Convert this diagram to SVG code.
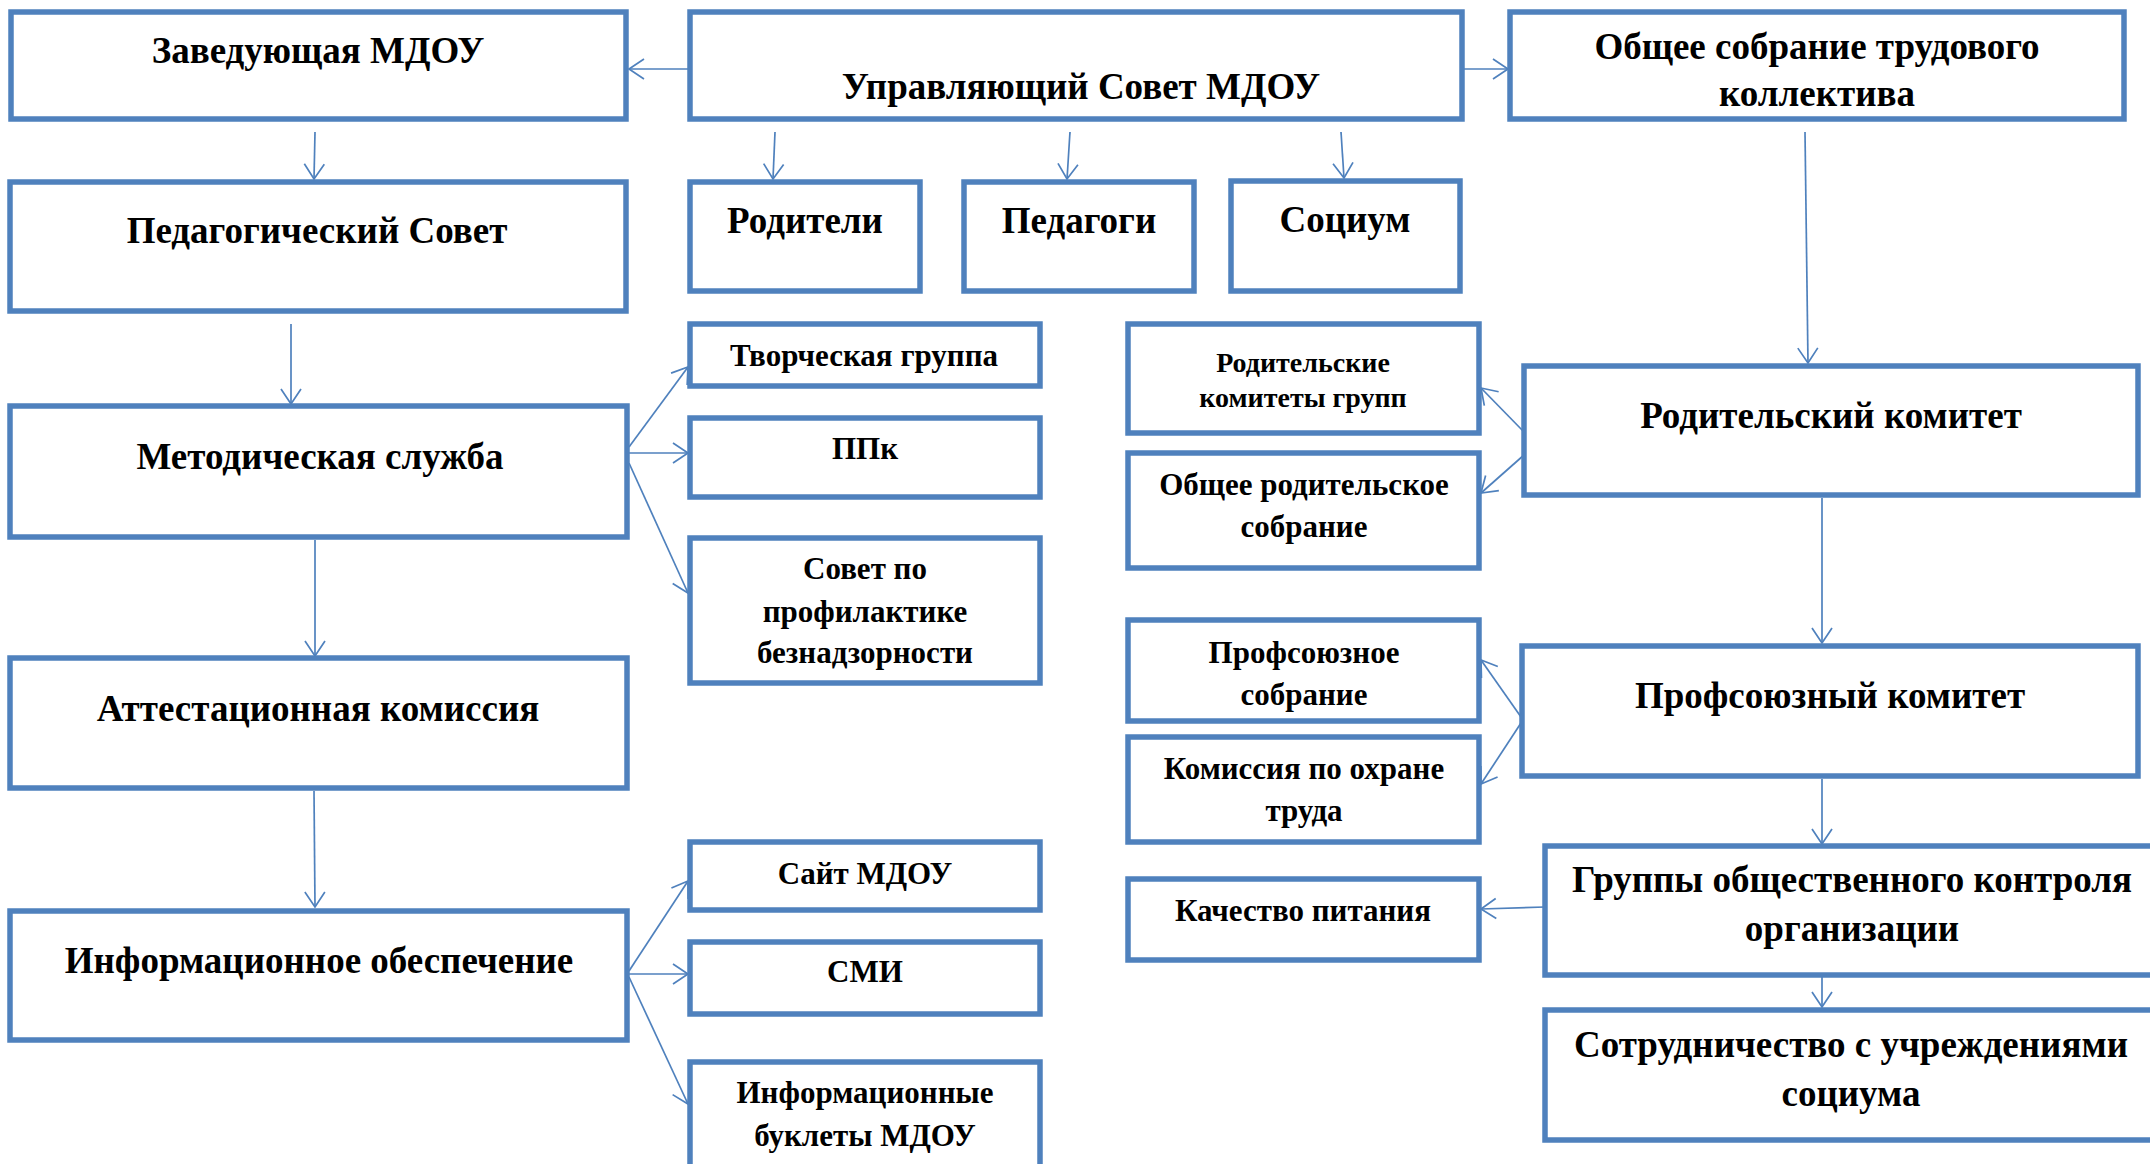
<svg xmlns="http://www.w3.org/2000/svg" width="2150" height="1164" viewBox="0 0 2150 1164">
<defs>
<marker id="arr" markerUnits="userSpaceOnUse" markerWidth="22" markerHeight="22" refX="16" refY="10" orient="auto" overflow="visible">
<path d="M1,0 L16,10 L1,20" fill="none" stroke="#4F81BD" stroke-width="1.7"/>
</marker>
<style>
.box{fill:#fff;stroke:#4F81BD;stroke-width:5.5}
.t{font-family:"Liberation Serif","Times New Roman",serif;font-weight:bold;text-anchor:middle;fill:#000}
.big{font-size:37px}
.mid{font-size:31px}
.sm{font-size:28px}
.c{stroke:#4F81BD;stroke-width:1.7;fill:none;marker-end:url(#arr)}
</style>
</defs>
<rect x="0" y="0" width="2150" height="1164" fill="#fff"/>

<g id="connectors">
<line class="c" x1="689" y1="69" x2="629" y2="69"/>
<line class="c" x1="1462" y1="69" x2="1508" y2="69"/>
<line class="c" x1="315" y1="132" x2="314" y2="179"/>
<line class="c" x1="775" y1="132" x2="773" y2="179"/>
<line class="c" x1="1070" y1="132" x2="1067" y2="179"/>
<line class="c" x1="1341" y1="132" x2="1344" y2="178"/>
<line class="c" x1="1805" y1="132" x2="1808" y2="363"/>
<line class="c" x1="291" y1="324" x2="291" y2="404"/>
<line class="c" x1="629" y1="447" x2="688" y2="367"/>
<line class="c" x1="629" y1="453" x2="688" y2="453"/>
<line class="c" x1="629" y1="463" x2="688" y2="593"/>
<line class="c" x1="315" y1="540" x2="315" y2="656"/>
<line class="c" x1="314" y1="791" x2="315" y2="907"/>
<line class="c" x1="629" y1="971" x2="688" y2="881"/>
<line class="c" x1="629" y1="974" x2="688" y2="974"/>
<line class="c" x1="629" y1="977" x2="688" y2="1104"/>
<line class="c" x1="1524" y1="432" x2="1481" y2="388"/>
<line class="c" x1="1524" y1="455" x2="1481" y2="493"/>
<line class="c" x1="1822" y1="498" x2="1822" y2="643"/>
<line class="c" x1="1521" y1="717" x2="1481" y2="660"/>
<line class="c" x1="1521" y1="723" x2="1481" y2="784"/>
<line class="c" x1="1822" y1="779" x2="1822" y2="844"/>
<line class="c" x1="1545" y1="907" x2="1481" y2="909"/>
<line class="c" x1="1822" y1="977" x2="1822" y2="1007"/>
</g>

<g id="zaveduyushchaya">
<rect class="box" x="11" y="12" width="615" height="107"/>
<text class="t big" x="318" y="63">Заведующая МДОУ</text>
</g>
<g id="upravlyayushchiy">
<rect class="box" x="690" y="12" width="772" height="107"/>
<text class="t big" x="1081" y="99">Управляющий Совет МДОУ</text>
</g>
<g id="obshchee-sobranie">
<rect class="box" x="1510" y="12" width="614" height="107"/>
<text class="t big" x="1817" y="59">Общее собрание трудового</text>
<text class="t big" x="1817" y="106">коллектива</text>
</g>
<g id="pedsovet">
<rect class="box" x="10" y="182" width="616" height="129"/>
<text class="t big" x="317" y="243">Педагогический Совет</text>
</g>
<g id="roditeli">
<rect class="box" x="690" y="182" width="230" height="109"/>
<text class="t big" x="805" y="233">Родители</text>
</g>
<g id="pedagogi">
<rect class="box" x="964" y="182" width="230" height="109"/>
<text class="t big" x="1079" y="233">Педагоги</text>
</g>
<g id="socium">
<rect class="box" x="1231" y="181" width="229" height="110"/>
<text class="t big" x="1345" y="232">Социум</text>
</g>
<g id="tvorcheskaya">
<rect class="box" x="690" y="324" width="350" height="62"/>
<text class="t mid" x="864" y="366">Творческая группа</text>
</g>
<g id="rod-komitety-grupp">
<rect class="box" x="1128" y="324" width="351" height="109"/>
<text class="t sm" x="1303" y="372">Родительские</text>
<text class="t sm" x="1303" y="407">комитеты групп</text>
</g>
<g id="rod-komitet">
<rect class="box" x="1524" y="366" width="614" height="129"/>
<text class="t big" x="1831" y="428">Родительский комитет</text>
</g>
<g id="metod-sluzhba">
<rect class="box" x="10" y="406" width="617" height="131"/>
<text class="t big" x="320" y="469">Методическая служба</text>
</g>
<g id="ppk">
<rect class="box" x="690" y="418" width="350" height="79"/>
<text class="t mid" x="865" y="459">ППк</text>
</g>
<g id="obshchee-rod-sobranie">
<rect class="box" x="1128" y="453" width="351" height="115"/>
<text class="t mid" x="1304" y="495">Общее родительское</text>
<text class="t mid" x="1304" y="537">собрание</text>
</g>
<g id="sovet-profilaktika">
<rect class="box" x="690" y="538" width="350" height="145"/>
<text class="t mid" x="865" y="579">Совет по</text>
<text class="t mid" x="865" y="622">профилактике</text>
<text class="t mid" x="865" y="663">безнадзорности</text>
</g>
<g id="profsoyuz-sobranie">
<rect class="box" x="1128" y="620" width="351" height="101"/>
<text class="t mid" x="1304" y="663">Профсоюзное</text>
<text class="t mid" x="1304" y="705">собрание</text>
</g>
<g id="profkom">
<rect class="box" x="1522" y="646" width="616" height="130"/>
<text class="t big" x="1830" y="708">Профсоюзный комитет</text>
</g>
<g id="attestaciya">
<rect class="box" x="10" y="658" width="617" height="130"/>
<text class="t big" x="318" y="721">Аттестационная комиссия</text>
</g>
<g id="ohrana-truda">
<rect class="box" x="1128" y="737" width="351" height="105"/>
<text class="t mid" x="1304" y="779">Комиссия по охране</text>
<text class="t mid" x="1304" y="821">труда</text>
</g>
<g id="sayt">
<rect class="box" x="690" y="842" width="350" height="68"/>
<text class="t mid" x="865" y="884">Сайт МДОУ</text>
</g>
<g id="kachestvo">
<rect class="box" x="1128" y="879" width="351" height="81"/>
<text class="t mid" x="1303" y="921">Качество питания</text>
</g>
<g id="gruppy-kontrolya">
<rect class="box" x="1545" y="846" width="620" height="129"/>
<text class="t big" x="1852" y="892">Группы общественного контроля</text>
<text class="t big" x="1852" y="941">организации</text>
</g>
<g id="info-obespechenie">
<rect class="box" x="10" y="911" width="617" height="129"/>
<text class="t big" x="319" y="973">Информационное обеспечение</text>
</g>
<g id="smi">
<rect class="box" x="690" y="942" width="350" height="72"/>
<text class="t mid" x="865" y="982">СМИ</text>
</g>
<g id="sotrudnichestvo">
<rect class="box" x="1545" y="1010" width="620" height="130"/>
<text class="t big" x="1851" y="1057">Сотрудничество с учреждениями</text>
<text class="t big" x="1851" y="1106">социума</text>
</g>
<g id="buklety">
<rect class="box" x="690" y="1062" width="350" height="120"/>
<text class="t mid" x="865" y="1103">Информационные</text>
<text class="t mid" x="865" y="1146">буклеты МДОУ</text>
</g>
</svg>
